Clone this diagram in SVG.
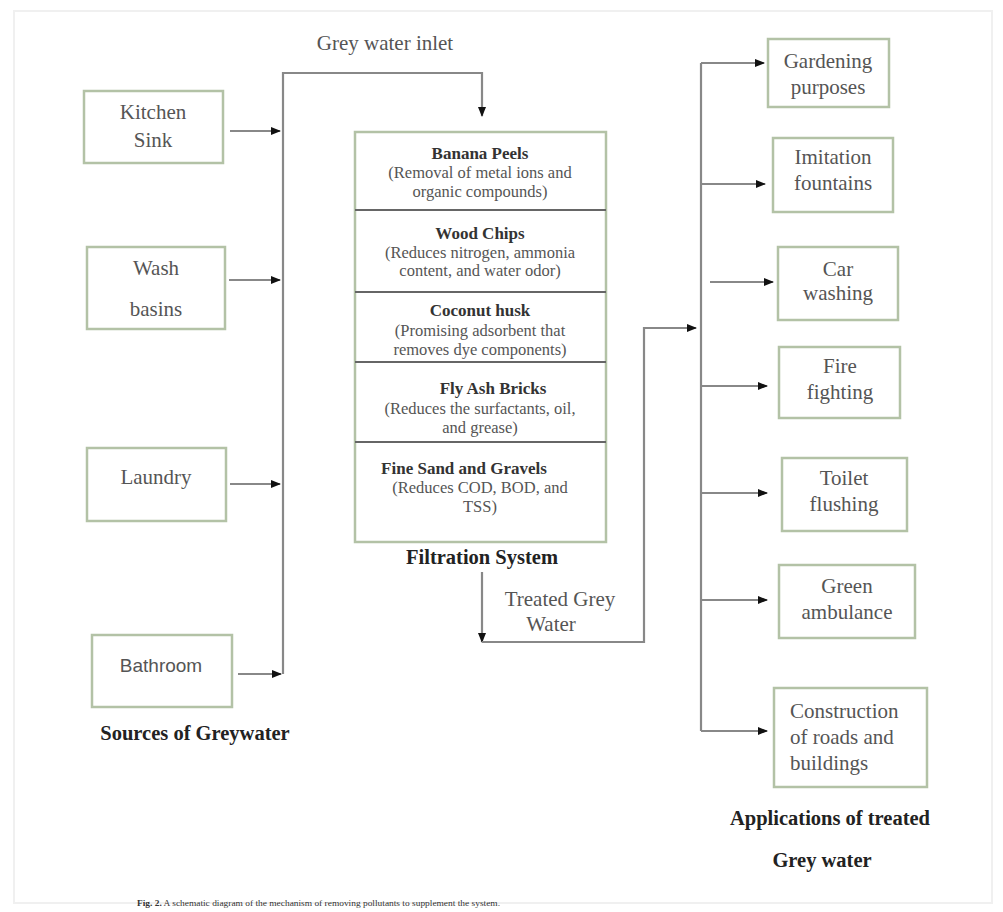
<svg xmlns="http://www.w3.org/2000/svg" width="1003" height="912" viewBox="0 0 1003 912">
<defs>
<marker id="ah" viewBox="0 0 10 10" refX="9" refY="5" markerWidth="10" markerHeight="10" markerUnits="userSpaceOnUse" orient="auto">
<path d="M0,1 L10,5 L0,9 Z" fill="#111"/>
</marker>
<style>
.box{fill:#fff;stroke:#b3c2a6;stroke-width:2.5}
.div{stroke:#666;stroke-width:2}
.ln{fill:none;stroke:#888;stroke-width:2.2}
.t{font-family:"Liberation Serif","Times New Roman",serif;font-size:21px;fill:#555;text-anchor:middle}
.ts{font-family:"Liberation Serif","Times New Roman",serif;font-size:21px;fill:#555;text-anchor:start}
.s{font-family:"Liberation Serif","Times New Roman",serif;font-size:16.5px;fill:#555;text-anchor:middle}
.sb{font-family:"Liberation Serif","Times New Roman",serif;font-size:17px;font-weight:bold;fill:#333;text-anchor:middle}
.h{font-family:"Liberation Serif","Times New Roman",serif;font-size:20.5px;font-weight:bold;fill:#222;text-anchor:middle}
</style>
</defs>
<rect x="0" y="0" width="1003" height="912" fill="#fff"/>
<rect x="14" y="11" width="978" height="892" fill="none" stroke="#f0f0f0" stroke-width="2"/>

<text class="t" x="385" y="50">Grey water inlet</text>

<g id="kitchen-sink">
<rect class="box" x="84" y="91" width="139" height="72"/>
<text class="t" x="153" y="119">Kitchen</text>
<text class="t" x="153" y="147">Sink</text>
</g>
<g id="wash-basins">
<rect class="box" x="87" y="247" width="138" height="82"/>
<text class="t" x="156" y="275">Wash</text>
<text class="t" x="156" y="316">basins</text>
</g>
<g id="laundry">
<rect class="box" x="87" y="448" width="139" height="73"/>
<text class="t" x="156" y="484">Laundry</text>
</g>
<g id="bathroom">
<rect class="box" x="92" y="635" width="140" height="72"/>
<text class="t" x="161" y="672" style="font-family:'Liberation Sans',Arial,sans-serif;font-size:19px">Bathroom</text>
</g>
<text class="h" x="195" y="740">Sources of Greywater</text>

<g id="filtration-system">
<rect class="box" x="355" y="132" width="251" height="410"/>
<line class="div" x1="355" y1="210" x2="606" y2="210"/>
<line class="div" x1="355" y1="292" x2="606" y2="292"/>
<line class="div" x1="355" y1="362" x2="606" y2="362"/>
<line class="div" x1="355" y1="442" x2="606" y2="442"/>
<text class="sb" x="480" y="159">Banana Peels</text>
<text class="s" x="480" y="178">(Removal of metal ions and</text>
<text class="s" x="480" y="197">organic compounds)</text>
<text class="sb" x="480" y="239">Wood Chips</text>
<text class="s" x="480" y="258">(Reduces nitrogen, ammonia</text>
<text class="s" x="480" y="276">content, and water odor)</text>
<text class="sb" x="480" y="316">Coconut husk</text>
<text class="s" x="480" y="336">(Promising adsorbent that</text>
<text class="s" x="480" y="355">removes dye components)</text>
<text class="sb" x="493" y="394">Fly Ash Bricks</text>
<text class="s" x="480" y="414">(Reduces the surfactants, oil,</text>
<text class="s" x="480" y="433">and grease)</text>
<text class="sb" x="464" y="474">Fine Sand and Gravels</text>
<text class="s" x="480" y="493">(Reduces COD, BOD, and</text>
<text class="s" x="480" y="512">TSS)</text>
<text class="h" x="482" y="564">Filtration System</text>
</g>

<text class="t" x="560" y="606">Treated Grey</text>
<text class="t" x="551" y="631">Water</text>

<g id="gardening">
<rect class="box" x="768" y="39" width="121" height="68"/>
<text class="t" x="828" y="68">Gardening</text>
<text class="t" x="828" y="94">purposes</text>
</g>
<g id="imitation-fountains">
<rect class="box" x="773" y="138" width="120" height="74"/>
<text class="t" x="833" y="164">Imitation</text>
<text class="t" x="833" y="190">fountains</text>
</g>
<g id="car-washing">
<rect class="box" x="778" y="247" width="120" height="73"/>
<text class="t" x="838" y="276">Car</text>
<text class="t" x="838" y="300">washing</text>
</g>
<g id="fire-fighting">
<rect class="box" x="779" y="347" width="121" height="71"/>
<text class="t" x="840" y="373">Fire</text>
<text class="t" x="840" y="399">fighting</text>
</g>
<g id="toilet-flushing">
<rect class="box" x="782" y="458" width="125" height="73"/>
<text class="t" x="844" y="485">Toilet</text>
<text class="t" x="844" y="511">flushing</text>
</g>
<g id="green-ambulance">
<rect class="box" x="779" y="565" width="136" height="73"/>
<text class="t" x="847" y="593">Green</text>
<text class="t" x="847" y="619">ambulance</text>
</g>
<g id="construction">
<rect class="box" x="774" y="688" width="153" height="99"/>
<text class="ts" x="790" y="718">Construction</text>
<text class="ts" x="790" y="744">of roads and</text>
<text class="ts" x="790" y="770">buildings</text>
</g>
<text class="h" x="830" y="825">Applications of treated</text>
<text class="h" x="822" y="867">Grey water</text>

<g id="connectors">
<line class="ln" x1="230" y1="131" x2="280" y2="131" marker-end="url(#ah)"/>
<line class="ln" x1="229" y1="280" x2="280" y2="280" marker-end="url(#ah)"/>
<line class="ln" x1="230" y1="484" x2="280" y2="484" marker-end="url(#ah)"/>
<line class="ln" x1="238" y1="674" x2="281" y2="674" marker-end="url(#ah)"/>
<polyline class="ln" points="283,674 283,73 482,73 482,116" marker-end="url(#ah)"/>
<polyline class="ln" points="482,572 482,642" marker-end="url(#ah)"/>
<polyline class="ln" points="482,642 644,642 644,328 696,328" marker-end="url(#ah)"/>
<line class="ln" x1="701" y1="63" x2="701" y2="731"/>
<line class="ln" x1="701" y1="63" x2="764" y2="63" marker-end="url(#ah)"/>
<line class="ln" x1="701" y1="184" x2="765" y2="184" marker-end="url(#ah)"/>
<line class="ln" x1="710" y1="282" x2="773" y2="282" marker-end="url(#ah)"/>
<line class="ln" x1="701" y1="386" x2="767" y2="386" marker-end="url(#ah)"/>
<line class="ln" x1="701" y1="493" x2="767" y2="493" marker-end="url(#ah)"/>
<line class="ln" x1="701" y1="600" x2="767" y2="600" marker-end="url(#ah)"/>
<line class="ln" x1="701" y1="731" x2="767" y2="731" marker-end="url(#ah)"/>
</g>

<text x="137" y="906" textLength="363" lengthAdjust="spacingAndGlyphs" style="font-family:'Liberation Serif','Times New Roman',serif;font-size:9px;fill:#333"><tspan font-weight="bold">Fig. 2.</tspan> A schematic diagram of the mechanism of removing pollutants to supplement the system.</text>
</svg>
